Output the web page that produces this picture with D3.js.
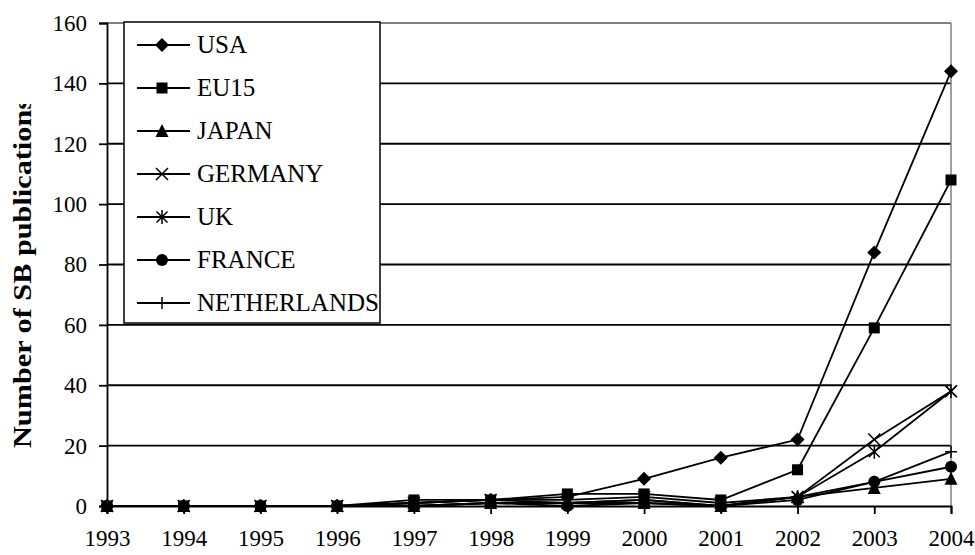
<!DOCTYPE html>
<html><head><meta charset="utf-8">
<script src="https://cdn.jsdelivr.net/npm/d3@7/dist/d3.min.js"></script>
<style>body{margin:0;background:#fff}svg{display:block}text{font-family:"Liberation Serif","Times New Roman",serif;fill:#000}</style>
</head><body><svg id="c" width="975" height="555"></svg>
<script>
const years = [1993,1994,1995,1996,1997,1998,1999,2000,2001,2002,2003,2004];
const seriesNames = ["USA","EU15","JAPAN","GERMANY","UK","FRANCE","NETHERLANDS"];
const markerTypes = ["diamond","square","triangle","x","star","circle","plus"];
const usa = [0,0,0,0,1,2,3,9,16,22,84,144];
const eu15 = [0,0,0,0,2,2,4,4,2,12,59,108];
const japan = [0,0,0,0,0,1,1,1,0,3,6,9];
const germany = [0,0,0,0,1,2,2,3,1,3,22,38];
const uk = [0,0,0,0,1,2,1,2,0,3,18,38];
const france = [0,0,0,0,0,1,0,1,0,2,8,13];
const netherlands = [0,0,0,0,0,1,1,2,0,3,8,18];
const yTicks = [0,20,40,60,80,100,120,140,160];
const yTitle = "Number of SB publications";

const seriesValues = [usa,eu15,japan,germany,uk,france,netherlands];
const svg = d3.select("#c");
const x = d3.scalePoint().domain(years).range([107,951]);
const y = d3.scaleLinear().domain([0,160]).range([506,23]);

// gridlines
svg.append("g").selectAll("line").data(yTicks.filter(v=>v>0)).join("line")
  .attr("x1",107).attr("x2",951).attr("y1",d=>y(d)).attr("y2",d=>y(d))
  .attr("stroke",d=>d===160?"#808080":"#000").attr("stroke-width",1.8);
// right border
svg.append("line").attr("x1",951).attr("x2",951).attr("y1",y(160)).attr("y2",y(0)).attr("stroke","#808080").attr("stroke-width",1.5);

// y axis
const ya = svg.append("g").attr("transform","translate(107,0)")
  .call(d3.axisLeft(y).tickValues(yTicks).tickSize(8).tickPadding(12).tickFormat(d3.format("d")));
ya.select(".domain").attr("stroke","#000").attr("stroke-width",1.8);
ya.selectAll(".tick line").attr("stroke","#000").attr("stroke-width",1.8);
ya.selectAll("text").attr("font-size",23).attr("font-family","Liberation Serif").attr("fill","#000");

// x axis
const xa = svg.append("g").attr("transform",`translate(0,${y(0)})`)
  .call(d3.axisBottom(x).tickSize(8).tickPadding(16).tickFormat(d3.format("d")));
xa.select(".domain").attr("stroke","#000").attr("stroke-width",1.8);
xa.selectAll(".tick line").attr("stroke","#000").attr("stroke-width",1.8);
xa.selectAll("text").attr("font-size",23).attr("font-family","Liberation Serif").attr("fill","#000");

// title (clipped at its end, as in the reference)
svg.append("clipPath").attr("id","tclip").append("rect").attr("x",0).attr("y",104).attr("width",60).attr("height",451);
svg.append("g").attr("clip-path","url(#tclip)").append("text")
  .attr("transform","translate(31,448) rotate(-90)")
  .attr("text-anchor","start").attr("font-size",26).attr("font-weight","bold")
  .attr("textLength",350).attr("lengthAdjust","spacingAndGlyphs").text(yTitle);

function marker(g, type) {
  if (type==="diamond") g.append("path").attr("d","M0,-7L7,0L0,7L-7,0Z").attr("fill","#000");
  else if (type==="square") g.append("rect").attr("x",-5.5).attr("y",-5.5).attr("width",11).attr("height",11).attr("fill","#000");
  else if (type==="triangle") g.append("path").attr("d","M0,-7L6.5,6L-6.5,6Z").attr("fill","#000");
  else if (type==="x") g.append("path").attr("d","M-6,-6L6,6M-6,6L6,-6").attr("stroke","#000").attr("stroke-width",1.5);
  else if (type==="star") g.append("path").attr("d","M-5.5,-5.5L5.5,5.5M-5.5,5.5L5.5,-5.5M0,-7L0,7").attr("stroke","#000").attr("stroke-width",1.5);
  else if (type==="circle") g.append("circle").attr("r",6).attr("fill","#000");
  else if (type==="plus") g.append("path").attr("d","M-6,0L6,0M0,-6L0,6").attr("stroke","#000").attr("stroke-width",1.5);
}

const line = d3.line().x((d,i)=>x(years[i])).y(d=>y(d));
seriesValues.forEach((vals,k)=>{
  const g = svg.append("g");
  g.append("path").attr("d",line(vals)).attr("fill","none").attr("stroke","#000").attr("stroke-width",1.8);
  vals.forEach((v,i)=>{
    const m = g.append("g").attr("transform",`translate(${x(years[i])},${y(v)})`);
    marker(m, markerTypes[k]);
  });
});

// legend
const lg = svg.append("g");
lg.append("rect").attr("x",124).attr("y",22).attr("width",256).attr("height",301).attr("fill","#fff").attr("stroke","#000").attr("stroke-width",1.5);
const ly = d3.scalePoint().domain(seriesNames).range([45,303]);
seriesNames.forEach((n,k)=>{
  const cy = ly(n);
  lg.append("line").attr("x1",137).attr("x2",190).attr("y1",cy).attr("y2",cy).attr("stroke","#000").attr("stroke-width",1.8);
  const m = lg.append("g").attr("transform",`translate(162,${cy})`);
  marker(m, markerTypes[k]);
  lg.append("text").attr("x",197).attr("y",cy).attr("dy","0.33em").attr("font-size",25).text(n);
});
</script></body></html>
